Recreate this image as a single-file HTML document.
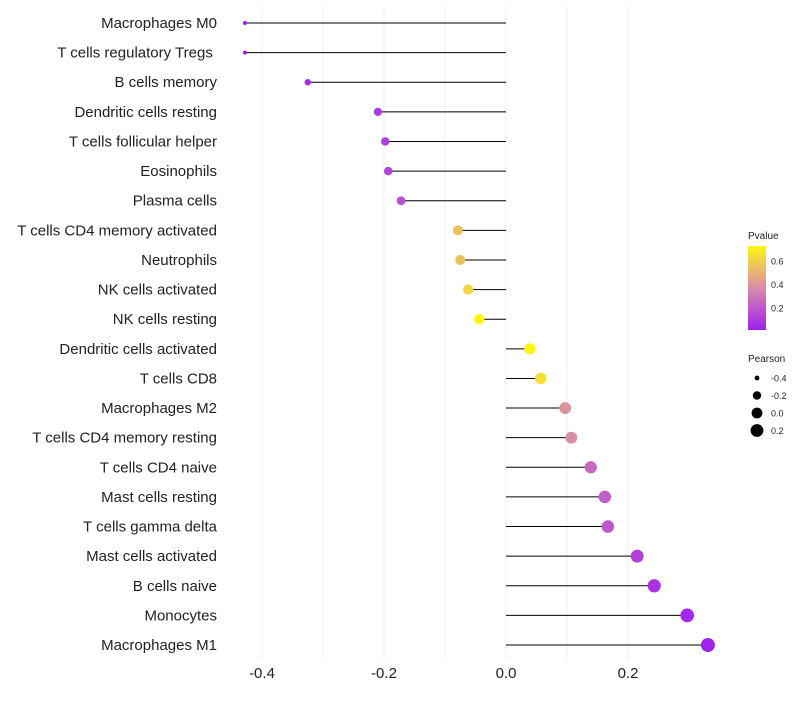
<!DOCTYPE html>
<html><head><meta charset="utf-8"><style>
body{margin:0;background:#fff;font-family:"Liberation Sans",Arial,sans-serif}
</style></head><body>
<svg id="c" width="800" height="700" xmlns="http://www.w3.org/2000/svg"></svg>
<script>
const categories=["Macrophages M0","T cells regulatory  Tregs\u00a0","B cells memory","Dendritic cells resting","T cells follicular helper","Eosinophils","Plasma cells","T cells CD4 memory activated","Neutrophils","NK cells activated","NK cells resting","Dendritic cells activated","T cells CD8","Macrophages M2","T cells CD4 memory resting","T cells CD4 naive","Mast cells resting","T cells gamma delta","Mast cells activated","B cells naive","Monocytes","Macrophages M1"];
const pearson=[-0.428,-0.428,-0.325,-0.21,-0.198,-0.193,-0.172,-0.079,-0.075,-0.062,-0.044,0.039,0.057,0.097,0.107,0.139,0.162,0.167,0.215,0.243,0.297,0.331];
const pvalue=[0.01,0.01,0.05,0.1,0.12,0.13,0.17,0.55,0.55,0.62,0.73,0.73,0.65,0.4,0.38,0.25,0.22,0.2,0.12,0.08,0.04,0.02];
const xTicks=[-0.4,-0.2,0.0,0.2];
const xMinor=[-0.3,-0.1,0.1];
const sizeLegend=[-0.4,-0.2,0.0,0.2];
const colorTicks=[0.2,0.4,0.6];
const NS="http://www.w3.org/2000/svg",svg=document.getElementById('c');
const X=v=>506+v*610, Y=i=>23+i*29.62;
const R=v=>Math.sqrt(4+59*Math.max(0,v+0.43));
function mk(t,a,p){const e=document.createElementNS(NS,t);for(const k in a)e.setAttribute(k,a[k]);(p||svg).appendChild(e);return e;}
function lerp(a,b,t){return a.map((v,i)=>Math.round(v+(b[i]-v)*t));}
function col(p){const t=Math.max(0,Math.min(1,(p-0.013)/(0.73-0.013)));const c0=[160,32,240],c1=[216,140,170],c2=[255,245,20];const c=t<0.5?lerp(c0,c1,t*2):lerp(c1,c2,(t-0.5)*2);return `rgb(${c})`;}
[...xTicks,...xMinor].forEach(v=>{const l=mk('line',{x1:X(v),x2:X(v),y1:5,y2:660,stroke:'#f0f0f0','stroke-width':1});
});
xTicks.forEach(v=>{const t=mk('text',{x:X(v),y:678,'text-anchor':'middle','font-size':15,fill:'#222'});t.textContent=v.toFixed(1);
});
categories.forEach((c,i)=>{
const t=mk('text',{x:217,y:Y(i)+5,'text-anchor':'end','font-size':15,fill:'#222'});t.textContent=c;

const l=mk('line',{x1:X(0),x2:X(pearson[i]),y1:Y(i),y2:Y(i),stroke:'#000','stroke-width':1});

const d=mk('circle',{cx:X(pearson[i]),cy:Y(i),r:R(pearson[i]),fill:col(pvalue[i])});

});
const lt=mk('text',{x:748,y:239,'font-size':10,fill:'#222'});lt.textContent='Pvalue';

const defs=mk('defs',{});const g=mk('linearGradient',{id:'pg',x1:0,y1:1,x2:0,y2:0},defs);
[0,0.25,0.5,0.75,1].forEach(s=>mk('stop',{offset:s,'stop-color':col(0.013+s*(0.73-0.013))},g));
const bar=mk('rect',{x:748,y:246,width:18,height:84,fill:'url(#pg)'});

colorTicks.forEach(v=>{const y=330-(v-0.013)/(0.73-0.013)*84;
const t=mk('text',{x:771,y:y+3.5,'font-size':9,fill:'#222'});t.textContent=v.toFixed(1);
});
const st=mk('text',{x:748,y:362,'font-size':10,fill:'#222'});st.textContent='Pearson';

sizeLegend.forEach((v,i)=>{const y=378+i*17.5;
const c=mk('circle',{cx:757,cy:y,r:R(v),fill:'#000'});

const t=mk('text',{x:771,y:y+3.5,'font-size':9,fill:'#222'});t.textContent=v.toFixed(1);
});
</script>
</body></html>
